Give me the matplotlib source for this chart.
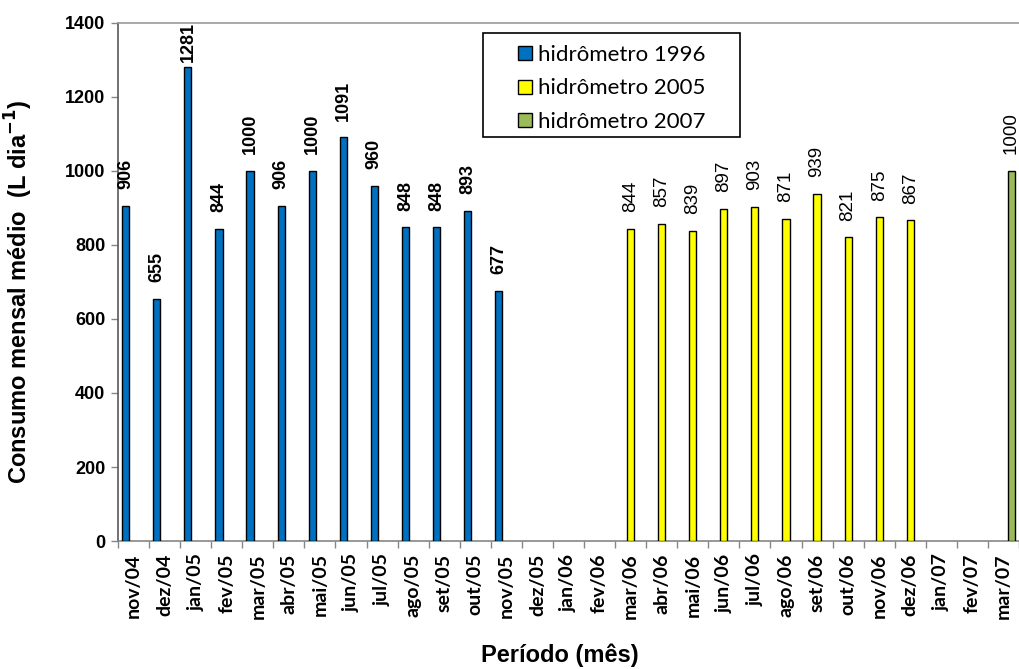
import numpy as np
import matplotlib
matplotlib.use("Agg")
import matplotlib.pyplot as plt
from matplotlib.patches import Rectangle
from matplotlib.lines import Line2D

months = ["nov/04", "dez/04", "jan/05", "fev/05", "mar/05", "abr/05", "mai/05",
          "jun/05", "jul/05", "ago/05", "set/05", "out/05", "nov/05", "dez/05",
          "jan/06", "fev/06", "mar/06", "abr/06", "mai/06", "jun/06", "jul/06",
          "ago/06", "set/06", "out/06", "nov/06", "dez/06", "jan/07", "fev/07",
          "mar/07"]

nan = np.nan
hidro_1996 = [906, 655, 1281, 844, 1000, 906, 1000, 1091, 960, 848, 848, 893, 677,
              nan, nan, nan, nan, nan, nan, nan, nan, nan, nan, nan, nan, nan,
              nan, nan, nan]
hidro_2005 = [nan, nan, nan, nan, nan, nan, nan, nan, nan, nan, nan, nan, nan,
              nan, nan, nan, 844, 857, 839, 897, 903, 871, 939, 821, 875, 867,
              nan, nan, nan]
hidro_2007 = [nan] * 28 + [1000]

series_names = ["hidrômetro 1996", "hidrômetro 2005", "hidrômetro 2007"]
series_colors = ["#0070C0", "#FFFF00", "#9BBB59"]

W, H = 1020, 669
fig = plt.figure(figsize=(W / 100, H / 100), dpi=100)
ax = fig.add_axes([118 / W, (H - 541) / H, 901 / W, 518 / H])

x = np.arange(len(months))
bar_w = 0.23
offsets = [-0.25, 0.0, 0.25]
label_styles = [
    dict(fontweight="bold", fontsize=13, family="Liberation Sans"),
    dict(fontweight="normal", fontsize=13.5, family="Liberation Sans"),
    dict(fontweight="normal", fontsize=13.5, family="Liberation Sans"),
]

ymax = 1400
for vals, off, col, style in zip([hidro_1996, hidro_2005, hidro_2007],
                                  offsets, series_colors, label_styles):
    v = np.array(vals, dtype=float)
    m = ~np.isnan(v)
    ax.bar(x[m] + off, v[m], width=bar_w, color=col, edgecolor="black",
           linewidth=1.0, zorder=3)
    for xi, vi in zip(x[m] + off, v[m]):
        txt = f"{int(vi)}"
        if vi > 1200:
            ax.annotate(txt, (xi, ymax), xytext=(0, 1), textcoords="offset points",
                        rotation=90, ha="center", va="top",
                        annotation_clip=False, **style)
        else:
            ax.annotate(txt, (xi, vi), xytext=(0, 12), textcoords="offset points",
                        rotation=90, ha="center", va="bottom",
                        annotation_clip=False, **style)

ax.set_xlim(-0.5, len(months) - 0.5)
ax.set_ylim(0, ymax)
ax.set_yticks(np.arange(0, 1401, 200))
ax.set_yticklabels([str(t) for t in range(0, 1401, 200)],
                   fontweight="bold", fontsize=13, family="Liberation Sans")

# category labels at centres, tick marks at category boundaries
ax.set_xticks(x)
ax.set_xticklabels(months, rotation=90, fontweight="bold", fontsize=14,
                   family="Lato", va="top")
ax.tick_params(axis="x", which="major", length=0, pad=9)
ax.set_xticks(np.arange(-0.5, len(months) + 0.5, 1), minor=True)
ax.tick_params(axis="x", which="minor", length=5, width=1, color="#868686",
               direction="out")
ax.tick_params(axis="y", which="major", length=5, width=1, color="#868686",
               direction="out", pad=4)

ax.spines["left"].set_color("#595959")
ax.spines["bottom"].set_color("#868686")
ax.spines["top"].set_color("#9a9a9a")
ax.spines["right"].set_visible(False)
for s in ("left", "bottom", "top"):
    ax.spines[s].set_linewidth(1.2)

fig.text(19 / W, 1 - 292 / H, "Consumo mensal médio  (L dia$^{\\mathbf{-1}}$)",
         rotation=90, ha="center", va="center", fontsize=17,
         fontweight="bold", family="Liberation Sans")
fig.text(560 / W, 1 - 655 / H, "Período (mês)", ha="center", va="center",
         fontsize=17, fontweight="bold", family="Liberation Sans")

# legend box, then the legend entries on top of it
box = Rectangle((483 / W, 1 - 137 / H), (740 - 483) / W, (137 - 33) / H,
                transform=fig.transFigure, facecolor="white",
                edgecolor="black", linewidth=1.2, zorder=4, clip_on=False)
ax.add_patch(box)

handles = [Line2D([], [], linestyle="none", marker="s", markersize=9.5,
                  markerfacecolor=c, markeredgecolor="black", markeredgewidth=1.0)
           for c in series_colors]
leg = ax.legend(handles, series_names, loc="upper left",
                bbox_to_anchor=(517 / W, 1 - 45 / H),
                bbox_transform=fig.transFigure,
                prop=dict(family="Lato", size=16),
                frameon=False,
                handlelength=0.75, handletextpad=0.2,
                labelspacing=0.6, borderpad=0, borderaxespad=0)
leg.set_zorder(6)

fig.savefig("out.png", dpi=100)
